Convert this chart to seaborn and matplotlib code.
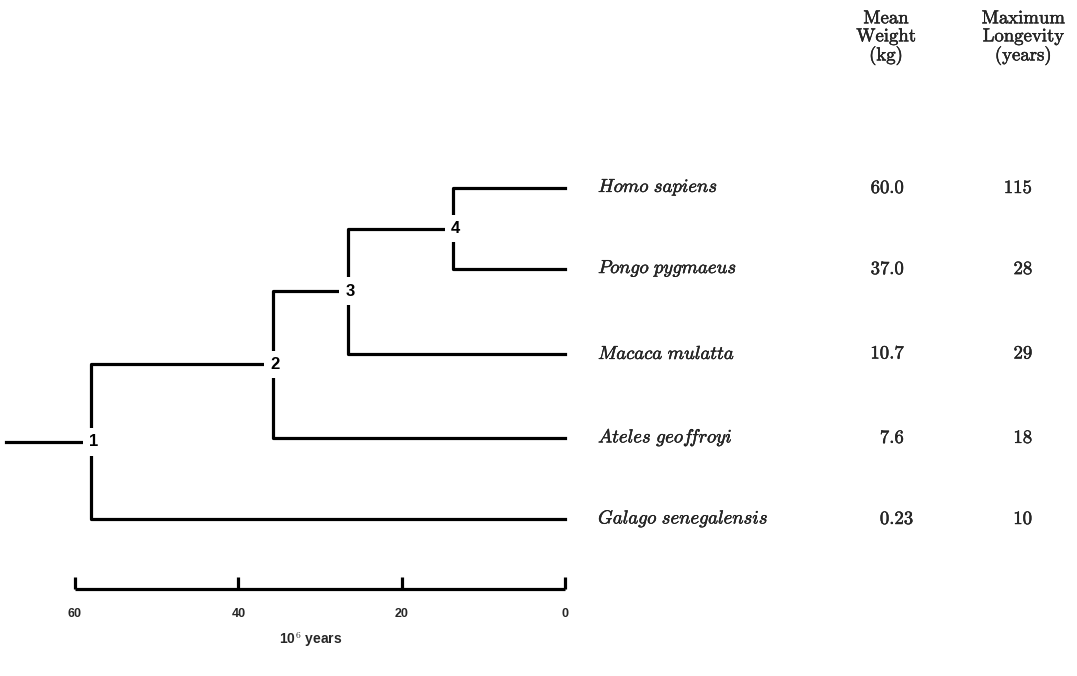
import pandas as pd
import seaborn as sns
import matplotlib.pyplot as plt
import matplotlib.patheffects as pe

# leaves, top to bottom
species = ['Homo sapiens', 'Pongo pygmaeus', 'Macaca mulatta', 'Ateles geoffroyi', 'Galago senegalensis']
leaf_rows = [0.0, 0.98, 2.0, 3.02, 4.0]
mean_weight = ['60.0', '37.0', '10.7', '7.6', '0.23']
max_longevity = ['115', '28', '29', '18', '10']

# internal nodes: label, divergence time (10^6 years), children
node_labels = ['4', '3', '2', '1']
node_ages = [13.7, 26.6, 35.8, 58.0]
node_children = [('Homo sapiens', 'Pongo pygmaeus'),
                 ('4', 'Macaca mulatta'),
                 ('3', 'Ateles geoffroyi'),
                 ('2', 'Galago senegalensis')]
root_age = 68.4

scale_ticks = [60, 40, 20, 0]

# positions of every node (age, row)
pos = {s: (0.0, r) for s, r in zip(species, leaf_rows)}
for lab, age, kids in zip(node_labels, node_ages, node_children):
    pos[lab] = (age, (pos[kids[0]][1] + pos[kids[1]][1]) / 2)

# one L-shaped path per branch
rows = []
seg = 0
for lab, kids in zip(node_labels, node_children):
    t0, r0 = pos[lab]
    for k in kids:
        t1, r1 = pos[k]
        for t, r in [(t0, r0), (t0, r1), (t1, r1)]:
            rows.append({'seg': seg, 't': t, 'row': r})
        seg += 1
t1, r1 = pos['1']
rows.append({'seg': seg, 't': root_age, 'row': r1})
rows.append({'seg': seg, 't': t1, 'row': r1})
branches = pd.DataFrame(rows)

sns.set_style('white')
plt.rcParams['mathtext.fontset'] = 'cm'
plt.rcParams['lines.solid_capstyle'] = 'projecting'

fig = plt.figure(figsize=(10.77, 6.76), dpi=100)
ax = fig.add_axes([0, 0, 1, 1])

sns.lineplot(data=branches, x='t', y='row', units='seg', estimator=None, sort=False,
             color='black', linewidth=2.3, legend=False, ax=ax)

# node numbers sit in gaps of the tree
for lab in node_labels:
    t, r = pos[lab]
    ax.text(t - 0.3, r, lab, ha='center', va='center', fontsize=12,
            family='Liberation Sans', weight='bold', color='black',
            bbox=dict(boxstyle='square,pad=0.38', fc='white', ec='none'))

# scanned print look: slightly heavier serif text
ink = [pe.withStroke(linewidth=0.3, foreground='black')]

# table on the right
name_x = -4.05
weight_x = -39.7
long_x = -57.2
for s, r, w, l in zip(species, leaf_rows, mean_weight, max_longevity):
    name = s.replace(' ', r'\ ').replace('ff', r'f\!f')
    ax.text(name_x, r, r'$\mathit{' + name + '}$', ha='left', va='center', fontsize=13.5,
            path_effects=ink)
    whole, frac = w.split('.')
    ax.text(weight_x, r, whole, ha='right', va='center', fontsize=13.5, family='cmr10',
            path_effects=ink)
    ax.text(weight_x, r, '.' + frac, ha='left', va='center', fontsize=13.5, family='cmr10',
            path_effects=ink)
    ax.text(long_x, r, l, ha='right', va='center', fontsize=13.5, family='cmr10',
            path_effects=ink)

ax.text(-39.3, -1.82, 'Mean\nWeight\n(kg)', ha='center', va='center', fontsize=13.5,
        family='cmr10', linespacing=1.0, path_effects=ink)
ax.text(-56.1, -1.82, 'Maximum\nLongevity\n(years)', ha='center', va='center', fontsize=13.5,
        family='cmr10', linespacing=1.0, path_effects=ink)

# time scale
bar_row = 4.85
ax.hlines(bar_row, scale_ticks[0], scale_ticks[-1], color='black', lw=2.3)
ax.vlines(scale_ticks, bar_row - 0.15, bar_row, color='black', lw=2.3)
for t in scale_ticks:
    ax.text(t, 5.15, str(t), ha='center', va='center', fontsize=9,
            family='Liberation Sans', weight='bold')
ax.text(31.2, 5.46, r'10$^{\mathbf{6}}$ years', ha='center', va='center', fontsize=10,
        family='Liberation Sans', weight='bold')

ax.set_xlim(69.18, -62.69)
ax.set_ylim(5.897, -2.272)
ax.axis('off')

fig.savefig('out.png', dpi=100)
